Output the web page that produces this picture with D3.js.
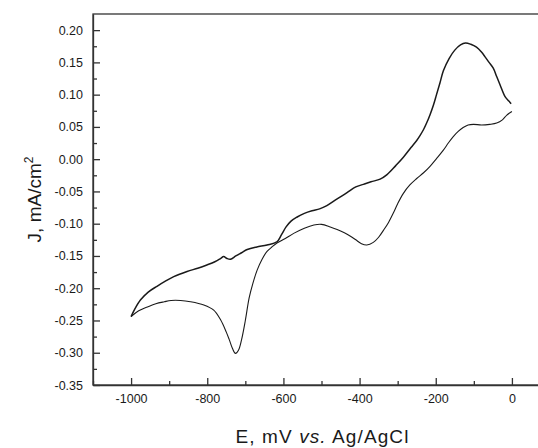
<!DOCTYPE html>
<html>
<head>
<meta charset="utf-8">
<script src="https://cdn.jsdelivr.net/npm/d3@7"></script>
<style>
  html, body { margin: 0; padding: 0; background: #fff; }
  svg { display: block; font-family: "Liberation Sans", Arial, sans-serif; }
  .axis text { font-size: 12.5px; fill: #1a1a1a; }
  .axis path, .axis line { stroke: #333; stroke-width: 1.3; }
</style>
</head>
<body>
<div id="chart"></div>
<script>
// cathodic sweep, 0 -> -1000 mV (E in mV, J in mA/cm2)
const cathodicE = [0, -14, -25, -40, -58, -80, -101, -115, -128, -141, -154, -167, -180, -198, -215, -232, -250,
  -268, -285, -300, -311, -324, -337, -350, -364, -381, -395, -410, -425, -440, -459, -477, -500, -520, -545,
  -573, -595, -617, -630, -643, -656, -669, -680, -690, -700, -710, -718, -726, -734, -742, -750, -765, -783,
  -809, -844, -870, -895, -913, -935, -957, -980, -1000];
const cathodicJ = [0.074, 0.068, 0.061, 0.056, 0.054, 0.053, 0.054, 0.053, 0.049, 0.043, 0.035, 0.025, 0.014, 0.001,
  -0.011, -0.021, -0.030, -0.040, -0.053, -0.069, -0.083, -0.098, -0.110, -0.121, -0.129, -0.133, -0.131, -0.125,
  -0.119, -0.114, -0.109, -0.105, -0.101, -0.102, -0.107, -0.115, -0.123, -0.130, -0.136, -0.143, -0.155, -0.172,
  -0.192, -0.215, -0.250, -0.280, -0.296, -0.301, -0.293, -0.280, -0.268, -0.249, -0.234, -0.226, -0.221, -0.219,
  -0.219, -0.221, -0.224, -0.229, -0.235, -0.244];

// anodic sweep, -1000 -> 0 mV
const anodicE = [-1000, -990, -975, -955, -932, -910, -888, -853, -825, -801, -780, -765, -757, -748, -739, -725,
  -710, -695, -670, -643, -617, -605, -593, -580, -565, -545, -525, -505, -486, -460, -433, -410, -390, -370, -346,
  -328, -305, -285, -265, -250, -241, -232, -224, -215, -206, -198, -189, -180, -165, -150, -135, -122, -108, -93,
  -80, -71, -60, -49, -40, -31, -18, -8, -2];
const anodicJ = [-0.244, -0.232, -0.218, -0.206, -0.197, -0.189, -0.182, -0.174, -0.169, -0.164, -0.159, -0.154,
  -0.151, -0.154, -0.155, -0.150, -0.145, -0.140, -0.136, -0.133, -0.128, -0.117, -0.105, -0.096, -0.090, -0.084,
  -0.080, -0.077, -0.072, -0.062, -0.052, -0.043, -0.039, -0.035, -0.031, -0.024, -0.010, 0.003, 0.018, 0.029,
  0.037, 0.046, 0.056, 0.069, 0.084, 0.100, 0.118, 0.137, 0.156, 0.169, 0.177, 0.180, 0.178, 0.1735, 0.166,
  0.159, 0.150, 0.141, 0.128, 0.115, 0.097, 0.090, 0.086];

const xMajor = [-1000, -800, -600, -400, -200, 0];
const xMinor = [-1100, -900, -700, -500, -300, -100];
const yMajor = [-0.35, -0.30, -0.25, -0.20, -0.15, -0.10, -0.05, 0.00, 0.05, 0.10, 0.15, 0.20];
const yMinor = [-0.325, -0.275, -0.225, -0.175, -0.125, -0.075, -0.025, 0.025, 0.075, 0.125, 0.175];

const W = 538, H = 448;
const svg = d3.select('#chart').append('svg').attr('width', W).attr('height', H);

const x = d3.scaleLinear().domain([-1100, 100]).range([93, 550]);
const y = d3.scaleLinear().domain([-0.35, 0.225]).range([385, 14]);

// plain hyphen minus, as in the original figure
const fmtY = d => d3.format('.2f')(d).replace('\u2212', '-');
const fmtX = d => d3.format('d')(d).replace('\u2212', '-');

// frame
svg.append('rect')
  .attr('x', x(-1100)).attr('y', y(0.225))
  .attr('width', x(100) - x(-1100)).attr('height', y(-0.35) - y(0.225))
  .attr('fill', 'none').attr('stroke', '#333').attr('stroke-width', 1.3);

svg.append('g').attr('class', 'axis').attr('transform', `translate(${x(-1100)},0)`)
  .call(d3.axisLeft(y).tickValues(yMajor).tickSize(-7).tickSizeOuter(0).tickPadding(10).tickFormat(fmtY));
svg.append('g').attr('class', 'axis').attr('transform', `translate(${x(-1100)},0)`)
  .call(d3.axisLeft(y).tickValues(yMinor).tickSize(-4).tickFormat(''))
  .select('.domain').remove();

svg.append('g').attr('class', 'axis').attr('transform', `translate(0,${y(-0.35)})`)
  .call(d3.axisBottom(x).tickValues(xMajor).tickSize(-7).tickSizeOuter(0).tickPadding(9).tickFormat(fmtX));
svg.append('g').attr('class', 'axis').attr('transform', `translate(0,${y(-0.35)})`)
  .call(d3.axisBottom(x).tickValues(xMinor).tickSize(-4).tickFormat(''))
  .select('.domain').remove();

// axis titles
const xt = svg.append('text').attr('x', (x(-1100) + x(100)) / 2 + 1).attr('y', 443)
  .attr('text-anchor', 'middle').attr('font-size', '19px').attr('fill', '#1a1a1a').attr('letter-spacing', '1.1px');
xt.append('tspan').text('E, mV ');
xt.append('tspan').attr('font-style', 'italic').text('vs.');
xt.append('tspan').text(' Ag/AgCl');

const yt = svg.append('text').attr('transform', 'rotate(-90)')
  .attr('x', -(y(-0.35) + y(0.225)) / 2).attr('y', 41)
  .attr('text-anchor', 'middle').attr('font-size', '19px').attr('fill', '#1a1a1a');
yt.append('tspan').text('J, mA/cm');
yt.append('tspan').attr('font-size', '12px').attr('dy', '-8').text('2');

// curves
const line = d3.line().x(d => x(d[0])).y(d => y(d[1])).curve(d3.curveCatmullRom.alpha(0.5));
const cathodic = cathodicE.map((e, i) => [e, cathodicJ[i]]);
const anodic = anodicE.map((e, i) => [e, anodicJ[i]]);

svg.append('path').datum(cathodic).attr('d', line)
  .attr('fill', 'none').attr('stroke', '#1a1a1a').attr('stroke-width', 1.1);
svg.append('path').datum(anodic).attr('d', line)
  .attr('fill', 'none').attr('stroke', '#1a1a1a').attr('stroke-width', 1.5);
</script>
</body>
</html>
